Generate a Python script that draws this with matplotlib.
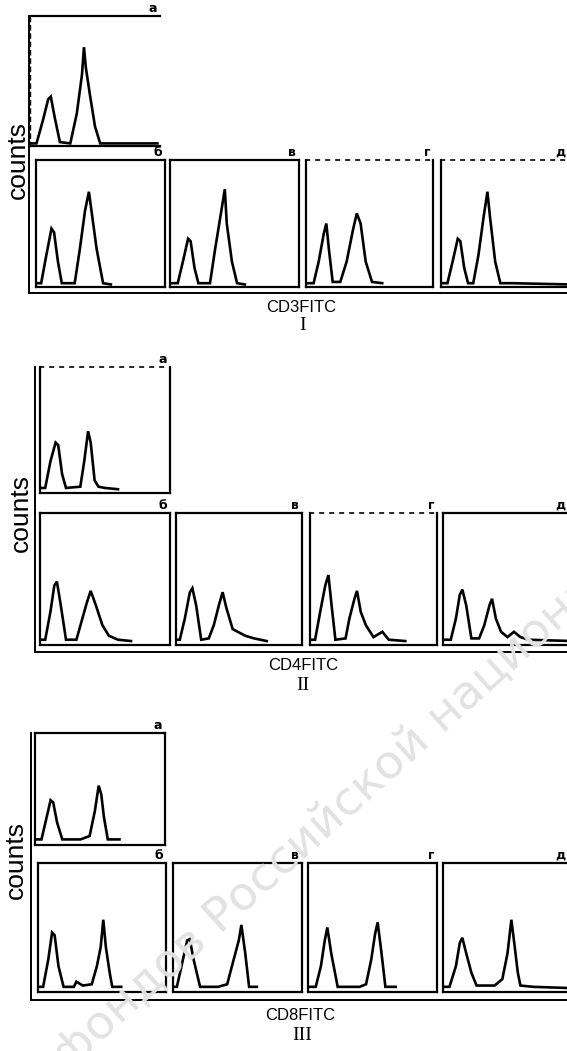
import matplotlib
matplotlib.use("Agg")
import matplotlib.pyplot as plt

W, H = 567, 1051

# --- data: histogram outlines (x in panel widths, y in panel heights)
panel_names = ['а', 'б', 'в', 'г', 'д']
group_names = ['I', 'II', 'III']
markers = ['CD3FITC', 'CD4FITC', 'CD8FITC']

cd3_x = [
    [0.0, 0.05, 0.10, 0.14, 0.16, 0.19, 0.23, 0.31, 0.36, 0.40, 0.415, 0.43, 0.46, 0.50, 0.54, 0.98],
    [0.0, 0.04, 0.08, 0.12, 0.14, 0.17, 0.20, 0.30, 0.34, 0.38, 0.41, 0.43, 0.47, 0.52, 0.58],
    [0.0, 0.06, 0.10, 0.14, 0.16, 0.19, 0.22, 0.31, 0.35, 0.39, 0.425, 0.44, 0.48, 0.52, 0.58],
    [0.0, 0.06, 0.10, 0.14, 0.16, 0.18, 0.21, 0.27, 0.32, 0.37, 0.40, 0.43, 0.47, 0.52, 0.60],
    [0.0, 0.05, 0.09, 0.13, 0.15, 0.18, 0.21, 0.25, 0.29, 0.33, 0.36, 0.38, 0.42, 0.46, 0.55, 1.0],
]
cd3_y = [
    [0.02, 0.02, 0.20, 0.36, 0.38, 0.22, 0.03, 0.02, 0.25, 0.55, 0.76, 0.60, 0.40, 0.15, 0.02, 0.02],
    [0.03, 0.03, 0.25, 0.46, 0.43, 0.20, 0.03, 0.03, 0.30, 0.60, 0.75, 0.60, 0.30, 0.03, 0.02],
    [0.03, 0.03, 0.20, 0.38, 0.36, 0.15, 0.03, 0.03, 0.30, 0.55, 0.77, 0.50, 0.20, 0.03, 0.02],
    [0.03, 0.03, 0.20, 0.42, 0.50, 0.30, 0.04, 0.04, 0.20, 0.45, 0.58, 0.50, 0.20, 0.04, 0.03],
    [0.03, 0.03, 0.20, 0.38, 0.36, 0.15, 0.03, 0.03, 0.25, 0.55, 0.75, 0.55, 0.20, 0.03, 0.03, 0.02],
]

cd4_x = [
    [0.0, 0.04, 0.08, 0.12, 0.14, 0.17, 0.20, 0.31, 0.34, 0.37, 0.39, 0.42, 0.45, 0.50, 0.60],
    [0.0, 0.04, 0.08, 0.11, 0.13, 0.16, 0.20, 0.28, 0.32, 0.36, 0.39, 0.43, 0.48, 0.53, 0.60, 0.70],
    [0.0, 0.03, 0.07, 0.11, 0.13, 0.16, 0.20, 0.26, 0.30, 0.34, 0.37, 0.40, 0.45, 0.55, 0.62, 0.72],
    [0.0, 0.04, 0.08, 0.12, 0.145, 0.17, 0.20, 0.28, 0.31, 0.35, 0.37, 0.40, 0.44, 0.50, 0.57, 0.62, 0.75],
    [0.0, 0.06, 0.10, 0.13, 0.15, 0.18, 0.22, 0.28, 0.32, 0.36, 0.38, 0.41, 0.45, 0.50, 0.55, 0.60, 0.66, 1.0],
]
cd4_y = [
    [0.04, 0.04, 0.25, 0.40, 0.38, 0.15, 0.04, 0.05, 0.25, 0.49, 0.40, 0.10, 0.05, 0.04, 0.03],
    [0.04, 0.04, 0.25, 0.45, 0.48, 0.30, 0.04, 0.04, 0.18, 0.32, 0.41, 0.30, 0.15, 0.07, 0.04, 0.03],
    [0.04, 0.04, 0.20, 0.40, 0.43, 0.30, 0.04, 0.05, 0.15, 0.30, 0.40, 0.28, 0.12, 0.07, 0.05, 0.03],
    [0.04, 0.04, 0.25, 0.45, 0.53, 0.30, 0.04, 0.05, 0.20, 0.35, 0.41, 0.25, 0.15, 0.06, 0.10, 0.04, 0.03],
    [0.04, 0.04, 0.20, 0.38, 0.42, 0.30, 0.05, 0.05, 0.15, 0.30, 0.35, 0.20, 0.10, 0.06, 0.10, 0.06, 0.04, 0.03],
]

cd8_x = [
    [0.0, 0.05, 0.09, 0.12, 0.14, 0.17, 0.21, 0.35, 0.42, 0.46, 0.49, 0.51, 0.53, 0.56, 0.65],
    [0.0, 0.04, 0.08, 0.11, 0.13, 0.16, 0.20, 0.28, 0.30, 0.35, 0.42, 0.46, 0.49, 0.51, 0.53, 0.56, 0.58, 0.65],
    [0.0, 0.03, 0.07, 0.11, 0.13, 0.16, 0.21, 0.35, 0.42, 0.47, 0.51, 0.53, 0.56, 0.59, 0.65],
    [0.0, 0.06, 0.10, 0.13, 0.15, 0.18, 0.23, 0.40, 0.45, 0.49, 0.52, 0.54, 0.57, 0.60, 0.68],
    [0.0, 0.05, 0.10, 0.13, 0.15, 0.18, 0.22, 0.26, 0.40, 0.46, 0.50, 0.53, 0.55, 0.58, 0.60, 0.70, 1.0],
]
cd8_y = [
    [0.05, 0.05, 0.25, 0.40, 0.38, 0.20, 0.05, 0.05, 0.08, 0.30, 0.53, 0.45, 0.25, 0.05, 0.05],
    [0.04, 0.04, 0.25, 0.46, 0.44, 0.20, 0.04, 0.04, 0.08, 0.05, 0.06, 0.20, 0.35, 0.56, 0.35, 0.15, 0.04, 0.04],
    [0.04, 0.04, 0.22, 0.40, 0.41, 0.25, 0.04, 0.04, 0.06, 0.25, 0.40, 0.52, 0.30, 0.04, 0.04],
    [0.04, 0.04, 0.20, 0.40, 0.50, 0.30, 0.04, 0.04, 0.06, 0.25, 0.45, 0.54, 0.30, 0.04, 0.04],
    [0.04, 0.04, 0.20, 0.38, 0.42, 0.30, 0.15, 0.05, 0.05, 0.10, 0.30, 0.56, 0.40, 0.15, 0.05, 0.04, 0.03],
]

all_x = [cd3_x, cd4_x, cd8_x]
all_y = [cd3_y, cd4_y, cd8_y]

# --- layout in pixels: (x0, x1, ytop, ybottom) for а, б, в, г, д
boxes = [
    [(30, 160, 16, 146), (36, 165, 160, 287), (170, 299, 160, 287), (306, 433, 160, 287), (441, 572, 160, 287)],
    [(40, 170, 367, 493), (40, 170, 513, 645), (176, 302, 513, 645), (310, 437, 513, 645), (443, 573, 513, 645)],
    [(35, 165, 733, 845), (38, 166, 863, 992), (173, 302, 863, 992), (308, 437, 863, 992), (443, 573, 863, 992)],
]
outer = [(29, 16, 293), (35, 367, 652), (31, 733, 1000)]   # left, top, bottom
counts_pos = [(18, 160), (21, 513), (16, 860)]
marker_pos = [(301, 308), (303, 665), (300, 1015)]
roman_pos = [(303, 326), (303, 686), (302, 1036)]
dotted_top = {(0, 3), (0, 4), (1, 0), (1, 3)}


def rect(x0, x1, yt, yb):
    return [x0 / W, 1 - yb / H, (x1 - x0) / W, (yb - yt) / H]


fig = plt.figure(figsize=(W / 100, H / 100), dpi=100)
fig.patch.set_facecolor('white')

# faint library watermark
fig.text(60 / W, 1 - 1062 / H, 'фондов Российской национальной', rotation=42,
         rotation_mode='anchor', ha='left', va='center', fontsize=34,
         color='#e2e2e2', family='DejaVu Sans', zorder=0)

for g in range(3):
    lx, ty, by = outer[g]
    ax = fig.add_axes(rect(lx, 600, ty, by))
    ax.set_facecolor('none')
    ax.set_xticks([])
    ax.set_yticks([])
    for s in ['top', 'right']:
        ax.spines[s].set_visible(False)
    for s in ['left', 'bottom']:
        ax.spines[s].set_linewidth(1.4)

    for p in range(5):
        x0, x1, yt, yb = boxes[g][p]
        pax = fig.add_axes(rect(x0, x1, yt, yb))
        pax.set_facecolor('none')
        pax.set_xlim(0, (x1 - x0) / 129 if p == 4 else 1)
        pax.set_ylim(0, 1)
        pax.set_xticks([])
        pax.set_yticks([])
        for s in pax.spines.values():
            s.set_linewidth(1.6)
        if (g, p) in dotted_top:
            pax.spines['top'].set_linestyle((0, (2, 4)))
            pax.spines['top'].set_linewidth(1.2)
        if g == 0 and p == 0:
            pax.spines['right'].set_visible(False)
            pax.spines['left'].set_linestyle((0, (3, 3)))
            pax.spines['left'].set_linewidth(1.0)
        pax.plot(all_x[g][p], all_y[g][p], color='black', lw=1.9,
                 solid_joinstyle='miter')
        lab_x = min(x1, 568) - 3
        fig.text(lab_x / W, 1 - (yt - 1) / H, panel_names[p], ha='right', va='bottom',
                 fontsize=9, fontweight='bold', family='DejaVu Sans')

    cx, cy = counts_pos[g]
    fig.text(cx / W, 1 - cy / H, 'counts', rotation=90, ha='center', va='center',
             fontsize=19, family='Liberation Sans')
    mx, my = marker_pos[g]
    fig.text(mx / W, 1 - my / H, markers[g], ha='center', va='center',
             fontsize=12, family='Liberation Sans')
    rx, ry = roman_pos[g]
    fig.text(rx / W, 1 - ry / H, group_names[g], ha='center', va='center',
             fontsize=14, family='Liberation Serif')

fig.savefig('out.png', dpi=100)
